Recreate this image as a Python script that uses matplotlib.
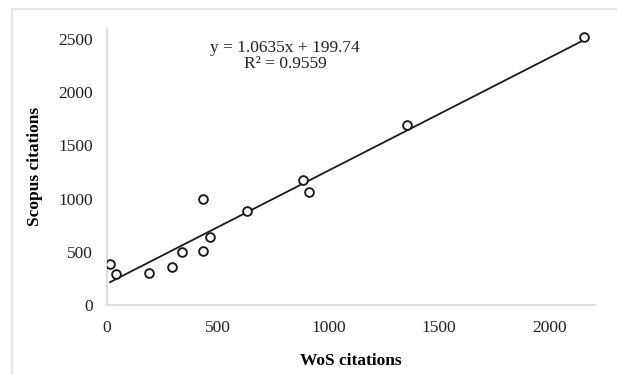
import matplotlib
matplotlib.use('Agg')
import matplotlib.pyplot as plt
import numpy as np

# WoS vs Scopus citation counts
wos = [14, 39, 190, 292, 337, 432, 435, 465, 631, 883, 910, 1353, 2155]
scopus = [385, 290, 299, 356, 494, 509, 997, 639, 887, 1173, 1063, 1689, 2516]
slope = 1.0635
intercept = 199.74
eq_text = 'y = 1.0635x + 199.74\nR² = 0.9559'

plt.rcParams['font.family'] = ['Liberation Serif', 'DejaVu Serif']

fig = plt.figure(figsize=(6.17, 3.75), dpi=100)
ax = fig.add_axes([0.1734, 0.1867, 0.9643 - 0.1734, 0.9253 - 0.1867])

# outer chart frame (light gray, cropped on right/bottom)
fig.add_artist(plt.Line2D([12 / 617, 1], [1 - 9 / 375] * 2, color='#e3e3e3', lw=1.2))
fig.add_artist(plt.Line2D([12 / 617] * 2, [0, 1 - 9 / 375], color='#e3e3e3', lw=1.2))

xs = np.array([min(wos), max(wos)])
ax.plot(xs, slope * xs + intercept, color='#1a1a1a', lw=1.3, zorder=2)
ax.plot(wos, scopus, 'o', mfc='white', mec='#1a1a1a', mew=1.35, ms=6.3, zorder=3)

ax.set_xlim(0, 2203)
ax.set_ylim(0, 2603)
ax.set_xticks([0, 500, 1000, 1500, 2000])
ax.set_yticks([0, 500, 1000, 1500, 2000, 2500])
ax.tick_params(length=0, labelsize=12.5, colors='#222222')
ax.tick_params(axis='x', pad=11)
ax.tick_params(axis='y', pad=10)
for s in ['top', 'right']:
    ax.spines[s].set_visible(False)
for s in ['left', 'bottom']:
    ax.spines[s].set_color('#d9d9d9')
    ax.spines[s].set_linewidth(1.2)

ax.set_xlabel('WoS citations', fontsize=12.5, fontweight='bold', labelpad=12)
ax.set_ylabel('Scopus citations', fontsize=12.5, fontweight='bold', labelpad=11)

fig.text(285 / 617, 1 - 56 / 375, eq_text, ha='center', va='center',
         fontsize=12.5, linespacing=0.95, color='#222222')

plt.savefig('out.png', dpi=100)
